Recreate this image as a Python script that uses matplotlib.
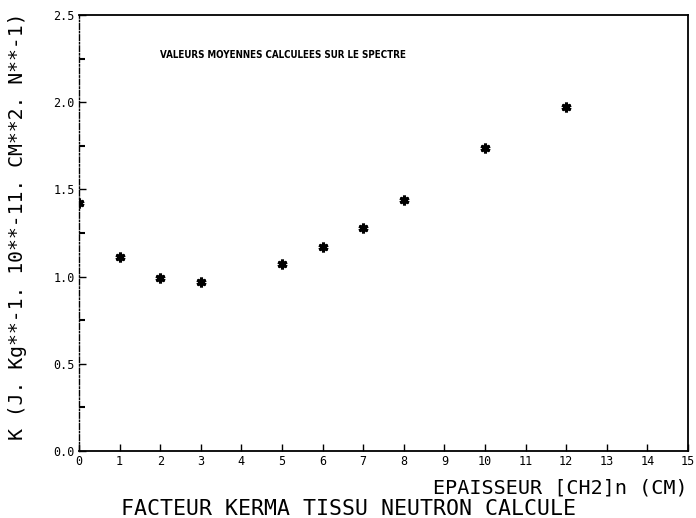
import matplotlib
matplotlib.use("Agg")
import matplotlib.pyplot as plt
from matplotlib.ticker import MultipleLocator

# Data
thickness_cm = [0, 1, 2, 3, 5, 6, 7, 8, 10, 12]
kerma_factor = [1.42, 1.11, 0.99, 0.97, 1.07, 1.17, 1.28, 1.44, 1.74, 1.97]
x_ticks = list(range(0, 16))
y_ticks = [0.0, 0.5, 1.0, 1.5, 2.0, 2.5]
y_tick_labels = ["0.0", "0.5", "1.0", "1.5", "2.0", "2.5"]

title_text = "FACTEUR KERMA TISSU NEUTRON CALCULE"
xlabel_text = "EPAISSEUR [CH2]n (CM)"
ylabel_text = "K (J. Kg**-1. 10**-11. CM**2. N**-1)"
note_text = "VALEURS MOYENNES CALCULEES SUR LE SPECTRE"

fig = plt.figure(figsize=(6.96, 5.18), dpi=100)
ax = fig.add_axes([79/696, 1-451/518, (688-79)/696, (451-15)/518])

ax.plot(thickness_cm, kerma_factor, linestyle="none", marker=(6, 2, 0),
        markersize=7, markeredgewidth=2.2, color="black")

ax.set_xlim(0, 15)
ax.set_ylim(0, 2.5)
ax.set_xticks(x_ticks)
ax.set_xticklabels([str(t) for t in x_ticks], fontsize=8.5, family="DejaVu Sans Mono")
ax.set_yticks(y_ticks)
ax.set_yticklabels(y_tick_labels, fontsize=8.5, family="DejaVu Sans Mono")
ax.yaxis.set_minor_locator(MultipleLocator(0.25))
ax.tick_params(axis="both", which="major", direction="in", length=5, width=1,
               pad=3, colors="black")
ax.tick_params(axis="y", which="minor", direction="in", length=4, width=1.5)

for side in ["top", "right", "bottom"]:
    ax.spines[side].set_linewidth(1.3)
    ax.spines[side].set_color("black")
ax.spines["left"].set_linewidth(1.0)
ax.spines["left"].set_linestyle((0, (4, 1.5, 1, 1.5)))

ax.text(0.133, 0.908, note_text, transform=ax.transAxes, fontsize=7,
        family="DejaVu Sans", fontweight="bold", stretch="condensed",
        ha="left", va="center")

fig.text(688/696, 1-488/518, xlabel_text, fontsize=14.5, family="DejaVu Sans Mono",
         ha="right", va="center")
fig.text(349/696, 1-509/518, title_text, fontsize=15.5, family="DejaVu Sans Mono",
         ha="center", va="center")
fig.text(18/696, 1-226/518, ylabel_text, fontsize=14.2, family="DejaVu Sans Mono",
         rotation=90, ha="center", va="center")

fig.savefig("out.png", dpi=100, facecolor="white")
